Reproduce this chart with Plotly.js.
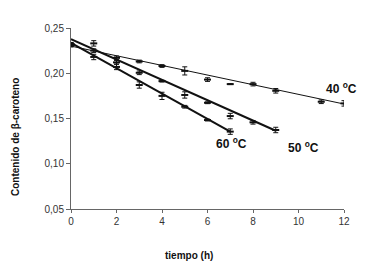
<!DOCTYPE html>
<html>
<head>
<meta charset="utf-8">
<script src="https://cdn.plot.ly/plotly-3.0.1.min.js"></script>
<style>html,body{margin:0;padding:0;background:#fff;}#chart{width:367px;height:267px;}</style>
</head>
<body>
<div id="chart"></div>
<script>
// Measured data (tiempo in h, contenido de beta-caroteno)
var t40 = [0, 1, 2, 3, 4, 5, 6, 7, 8, 9, 11, 12];
var c40 = [0.232, 0.233, 0.217, 0.213, 0.208, 0.2026, 0.193, 0.188, 0.188, 0.1806, 0.1685, 0.1667];
var e40 = [0.002, 0.003, 0.002, 0.0015, 0.0015, 0.0045, 0.002, 0.0005, 0.002, 0.0025, 0.002, 0.003];

var t50 = [0, 1, 2, 3, 4, 5, 6, 7, 8, 9];
var c50 = [0.232, 0.225, 0.212, 0.2005, 0.1913, 0.176, 0.1674, 0.1527, 0.1458, 0.1373];
var e50 = [0.002, 0.002, 0.002, 0.002, 0.001, 0.0035, 0.001, 0.003, 0.002, 0.003];

var t60 = [0, 1, 2, 3, 4, 5, 6, 7];
var c60 = [0.231, 0.218, 0.207, 0.187, 0.175, 0.163, 0.1483, 0.1355];
var e60 = [0.002, 0.003, 0.003, 0.0035, 0.004, 0.0015, 0.001, 0.003];

// Linear fit lines (end points)
var fitT40 = [0, 12], fitC40 = [0.230, 0.166];
var fitT50 = [0, 9],  fitC50 = [0.2378, 0.1365];
var fitT60 = [0, 7],  fitC60 = [0.2335, 0.1355];

var labels = ['40 <sup>o</sup>C', '50 <sup>o</sup>C', '60 <sup>o</sup>C'];
var labelX = [11.91, 10.24, 7.05];
var labelY = [0.1836, 0.1183, 0.1227];

var xTicks = [0, 2, 4, 6, 8, 10, 12];
var yTicks = [0.05, 0.10, 0.15, 0.20, 0.25];
var yTickText = ['0,05', '0,10', '0,15', '0,20', '0,25'];

var ink = '#111';
function pts(x, y, e) {
  return {x: x, y: y, type: 'scatter', mode: 'markers', showlegend: false, hoverinfo: 'skip',
    marker: {symbol: 'line-ew', size: 5, color: ink, line: {width: 2, color: ink}},
    error_y: {type: 'data', array: e, visible: true, color: ink, thickness: 1, width: 2.5}};
}
function fit(x, y, w) {
  return {x: x, y: y, type: 'scatter', mode: 'lines', showlegend: false, hoverinfo: 'skip',
    line: {color: ink, width: w}};
}

var data = [
  fit(fitT40, fitC40, 1), fit(fitT50, fitC50, 2), fit(fitT60, fitC60, 2),
  pts(t40, c40, e40), pts(t50, c50, e50), pts(t60, c60, e60)
];

var ann = [];
for (var i = 0; i < labels.length; i++) {
  ann.push({x: labelX[i], y: labelY[i], xref: 'x', yref: 'y', text: labels[i], showarrow: false,
    font: {family: 'Liberation Sans, Arial, sans-serif', size: 12, color: ink}, xanchor: 'center', yanchor: 'middle'});
}
ann.push({x: 189, y: 267 - 256, xref: 'paper', yref: 'paper', text: '<b>tiempo (h)</b>', showarrow: false,
  font: {family: 'Liberation Sans, Arial, sans-serif', size: 10, color: ink}, xanchor: 'center', yanchor: 'middle'});
ann.push({x: 15, y: 137, xref: 'paper', yref: 'paper', text: '<b>Contenido de β-caroteno</b>', showarrow: false, textangle: -90,
  font: {family: 'Liberation Sans, Arial, sans-serif', size: 10, color: ink}, xanchor: 'center', yanchor: 'middle'});

// convert pixel positions for axis-title annotations into paper coords
var L = 71, R = 23, T = 28, B = 58;
var pw = 367 - L - R, ph = 267 - T - B;
ann[3].x = (189 - L) / pw; ann[3].y = (267 - B - 256) / ph;
ann[4].x = (15 - L) / pw;  ann[4].y = (267 - B - 137) / ph;
// bold titles via font weight
ann[3].text = 'tiempo (h)'; ann[3].font.weight = 'bold';
ann[4].text = 'Contenido de β-caroteno'; ann[4].font.weight = 'bold';
for (var j = 0; j < 3; j++) { ann[j].font.weight = 'bold'; }

var layout = {
  width: 367, height: 267,
  margin: {l: L, r: R, t: T, b: B},
  paper_bgcolor: '#fff', plot_bgcolor: '#fff',
  showlegend: false,
  font: {family: 'Liberation Sans, Arial, sans-serif', size: 10, color: '#333'},
  xaxis: {range: [0, 12], tickvals: xTicks, ticks: 'outside', ticklen: 3, tickcolor: '#666',
    showline: true, linecolor: '#666', linewidth: 1, showgrid: false, zeroline: false,
    tickfont: {size: 10, color: '#333'}},
  yaxis: {range: [0.05, 0.25], tickvals: yTicks, ticktext: yTickText, ticks: 'outside', ticklen: 4, tickcolor: '#666',
    showline: true, linecolor: '#666', linewidth: 1, showgrid: false, zeroline: false,
    tickfont: {size: 10, color: '#333'}},
  annotations: ann
};

Plotly.newPlot('chart', data, layout, {staticPlot: true, displayModeBar: false});
</script>
</body>
</html>
